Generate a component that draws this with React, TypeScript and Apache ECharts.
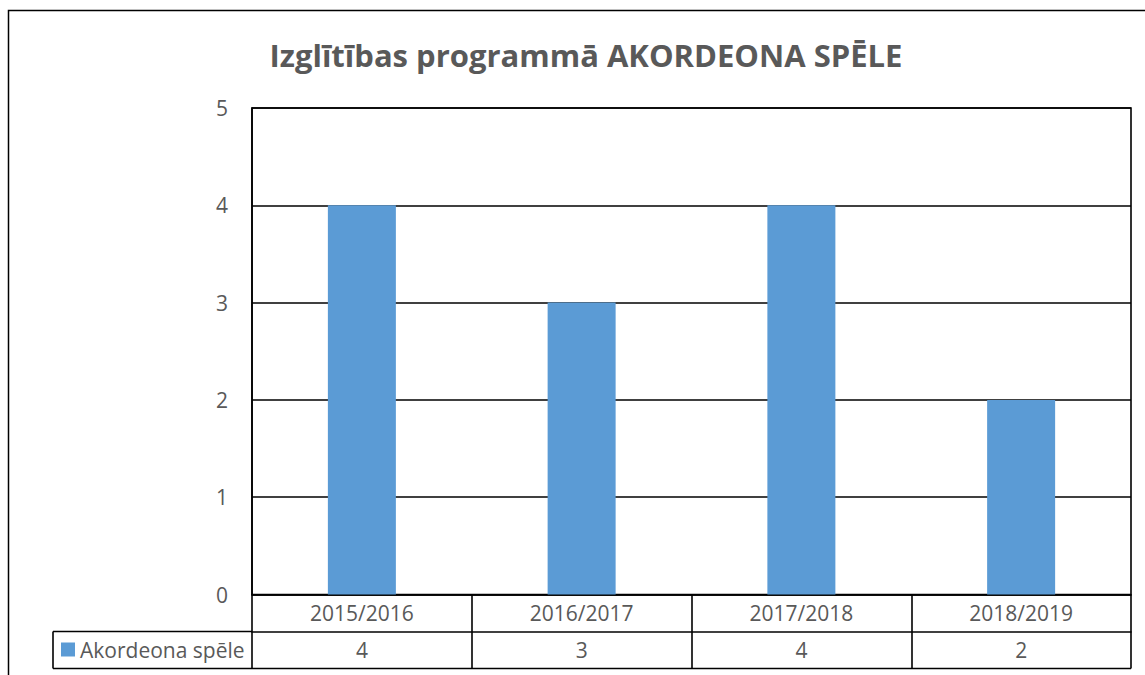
import React, { useEffect, useRef } from "react";
import * as echarts from "echarts";

const title = "Izglītības programmā AKORDEONA SPĒLE";
const seriesName = "Akordeona spēle";
const categories = ["2015/2016", "2016/2017", "2017/2018", "2018/2019"];
const values = [4, 3, 4, 2];
const yTicks = { min: 0, max: 5, interval: 1 };

const FONT = "'Open Sans', 'Noto Sans', sans-serif";
const TXT = "#595959";

export default function App() {
  const ref = useRef<HTMLDivElement>(null);
  useEffect(() => {
    if (!ref.current) return;
    const chart = echarts.init(ref.current, undefined, { renderer: "svg" });
    const gl = 252, gt = 108, gr = 1131, gb = 594.5;
    const rowH = 37;
    const lineStyle = { stroke: "#000", lineWidth: 1.6 };
    chart.setOption({
      animation: false,
      backgroundColor: "#fff",
      textStyle: { fontFamily: FONT },
      title: {
        text: title,
        left: 581,
        textAlign: "center",
        top: 34,
        textStyle: { fontSize: 31, fontWeight: "bold", color: TXT, fontFamily: FONT },
      },
      legend: {
        left: 61,
        top: 639,
        padding: 0,
        itemWidth: 14,
        itemHeight: 14,
        icon: "rect",
        itemGap: 5,
        textStyle: { fontSize: 21, color: TXT, fontFamily: FONT, padding: [0, 0, 0, 0] },
        data: [seriesName],
      },
      grid: {
        left: gl,
        top: gt,
        width: gr - gl,
        height: gb - gt,
        show: true,
        borderColor: "#000",
        borderWidth: 1.6,
        containLabel: false,
      },
      xAxis: [
        {
          type: "category",
          data: categories,
          position: "bottom",
          axisLine: { show: true, lineStyle: { color: "#000", width: 1.6 } },
          axisTick: { show: true, length: rowH * 2, interval: 0, lineStyle: { color: "#000", width: 1.6 } },
          axisLabel: { show: true, margin: 8, fontSize: 21, color: TXT, fontFamily: FONT, interval: 0 },
          splitLine: { show: false },
        },
        {
          type: "category",
          data: values.map((v) => String(v)),
          position: "bottom",
          offset: rowH,
          axisLine: { show: true, lineStyle: { color: "#000", width: 1.6 } },
          axisTick: { show: false },
          axisLabel: { show: true, margin: 8, fontSize: 21, color: TXT, fontFamily: FONT, interval: 0 },
          splitLine: { show: false },
        },
      ],
      yAxis: {
        type: "value",
        min: yTicks.min,
        max: yTicks.max,
        interval: yTicks.interval,
        axisLine: { show: true, lineStyle: { color: "#000", width: 1.6 } },
        axisTick: { show: false },
        axisLabel: { margin: 24, fontSize: 21, color: TXT, fontFamily: FONT },
        splitLine: { show: true, lineStyle: { color: "#000", width: 1.6 } },
      },
      series: [
        {
          name: seriesName,
          type: "bar",
          xAxisIndex: 0,
          data: values,
          barWidth: 68,
          itemStyle: { color: "#5B9BD5" },
        },
      ],
      graphic: [
        { type: "rect", shape: { x: 8.5, y: 10.5, width: 1200, height: 800 }, style: { fill: "none", stroke: "#000", lineWidth: 1.5 }, silent: true, z: -1 },
        { type: "line", shape: { x1: 53, y1: gb + rowH * 2, x2: gr, y2: gb + rowH * 2 }, style: lineStyle },
        { type: "line", shape: { x1: 53, y1: gb + rowH, x2: gl, y2: gb + rowH }, style: lineStyle },
        { type: "line", shape: { x1: 53, y1: gb + rowH, x2: 53, y2: gb + rowH * 2 }, style: lineStyle },
      ],
    });
    return () => chart.dispose();
  }, []);
  return (
    <div
      ref={ref}
      style={{ position: "fixed", left: 0, top: 0, width: 1145, height: 675, background: "#fff" }}
    />
  );
}
